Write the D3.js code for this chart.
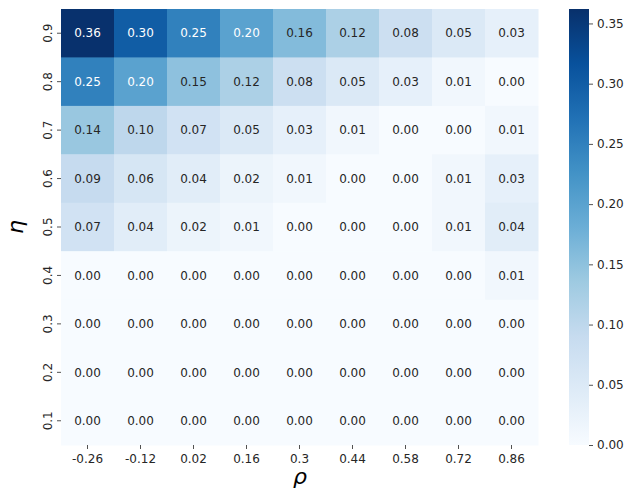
<!DOCTYPE html>
<html>
<head>
<meta charset="utf-8">
<script src="https://cdn.jsdelivr.net/npm/d3@7"></script>
<style>
  body { margin: 0; background: #fff; }
  text { font-family: "DejaVu Sans", sans-serif; }
</style>
</head>
<body>
<script>
let width = 630;
let height = 493;

// data
var rhoLabels = ['-0.26', '-0.12', '0.02', '0.16', '0.3', '0.44', '0.58', '0.72', '0.86'];
var etaLabels = ['0.9', '0.8', '0.7', '0.6', '0.5', '0.4', '0.3', '0.2', '0.1'];
var row09 = [0.36, 0.30, 0.25, 0.20, 0.16, 0.12, 0.08, 0.05, 0.03];
var row08 = [0.25, 0.20, 0.15, 0.12, 0.08, 0.05, 0.03, 0.01, 0.00];
var row07 = [0.14, 0.10, 0.07, 0.05, 0.03, 0.01, 0.00, 0.00, 0.01];
var row06 = [0.09, 0.06, 0.04, 0.02, 0.01, 0.00, 0.00, 0.01, 0.03];
var row05 = [0.07, 0.04, 0.02, 0.01, 0.00, 0.00, 0.00, 0.01, 0.04];
var row04 = [0.00, 0.00, 0.00, 0.00, 0.00, 0.00, 0.00, 0.00, 0.01];
var row03 = [0.00, 0.00, 0.00, 0.00, 0.00, 0.00, 0.00, 0.00, 0.00];
var row02 = [0.00, 0.00, 0.00, 0.00, 0.00, 0.00, 0.00, 0.00, 0.00];
var row01 = [0.00, 0.00, 0.00, 0.00, 0.00, 0.00, 0.00, 0.00, 0.00];
var rows = [row09, row08, row07, row06, row05, row04, row03, row02, row01];
var cbarTicks = [0, 0.05, 0.10, 0.15, 0.20, 0.25, 0.30, 0.35];

var vmax = 0.362;
var plot = {left: 61, right: 538, top: 9, bottom: 445};
var cbar = {left: 569, right: 589};
var tickColor = '#262626';

var cells = [];
rows.forEach(function(r, i) {
  r.forEach(function(v, j) {
    cells.push({eta: etaLabels[i], rho: rhoLabels[j], value: v});
  });
});

var blues = d3.schemeBlues[9];
var color = d3.scaleLinear()
  .domain(d3.range(9).map(function(k) { return k / 8 * vmax; }))
  .range(blues)
  .interpolate(d3.interpolateRgb)
  .clamp(true);

var x = d3.scaleBand().domain(rhoLabels).range([plot.left, plot.right]);
var y = d3.scaleBand().domain(etaLabels).range([plot.top, plot.bottom]);

var svg = d3.select('body')
  .append('svg')
  .attr('width', width)
  .attr('height', height);

svg.selectAll('rect.cell')
  .data(cells)
  .enter()
  .append('rect')
  .attr('class', 'cell')
  .attr('x', function(d) { return x(d.rho); })
  .attr('y', function(d) { return y(d.eta); })
  .attr('width', x.bandwidth() + 0.5)
  .attr('height', y.bandwidth() + 0.5)
  .attr('fill', function(d) { return color(d.value); });

function lum(c) {
  var rgb = d3.rgb(c);
  var f = function(v) { v = v / 255; return v <= 0.03928 ? v / 12.92 : Math.pow((v + 0.055) / 1.055, 2.4); };
  return 0.2126 * f(rgb.r) + 0.7152 * f(rgb.g) + 0.0722 * f(rgb.b);
}

svg.selectAll('text.annot')
  .data(cells)
  .enter()
  .append('text')
  .attr('class', 'annot')
  .attr('x', function(d) { return x(d.rho) + x.bandwidth() / 2; })
  .attr('y', function(d) { return y(d.eta) + y.bandwidth() / 2; })
  .attr('text-anchor', 'middle')
  .attr('dy', '.35em')
  .attr('font-size', 12)
  .attr('fill', function(d) { return lum(color(d.value)) > 0.408 ? tickColor : '#ffffff'; })
  .text(function(d) { return d.value.toFixed(2); });

// axes
var xAxis = svg.append('g')
  .attr('transform', 'translate(0,' + plot.bottom + ')')
  .call(d3.axisBottom(x).tickSize(4).tickPadding(5));
xAxis.select('.domain').remove();

var yAxis = svg.append('g')
  .attr('transform', 'translate(' + plot.left + ',0)')
  .call(d3.axisLeft(y).tickSize(4).tickPadding(4));
yAxis.select('.domain').remove();
yAxis.selectAll('.tick text')
  .attr('transform', 'rotate(-90)')
  .attr('x', 0)
  .attr('y', -9)
  .attr('dy', 0)
  .attr('text-anchor', 'middle');

svg.selectAll('.tick line').attr('stroke', tickColor).attr('stroke-width', 0.8);
svg.selectAll('.tick text')
  .attr('fill', tickColor)
  .attr('font-size', 12)
  .attr('font-family', '"DejaVu Sans", sans-serif');

svg.append('text')
  .attr('x', 300)
  .attr('y', 484)
  .attr('text-anchor', 'middle')
  .attr('font-size', 22)
  .attr('font-style', 'italic')
  .attr('fill', '#000')
  .text('ρ');

svg.append('text')
  .attr('transform', 'translate(23,' + ((plot.top + plot.bottom) / 2) + ') rotate(-90)')
  .attr('text-anchor', 'middle')
  .attr('font-size', 22)
  .attr('font-style', 'italic')
  .attr('fill', '#000')
  .text('η');

// colorbar
var defs = svg.append('defs');
var grad = defs.append('linearGradient')
  .attr('id', 'cbar')
  .attr('x1', 0).attr('y1', 1).attr('x2', 0).attr('y2', 0);
blues.forEach(function(c, k) {
  grad.append('stop').attr('offset', k / 8).attr('stop-color', c);
});

svg.append('rect')
  .attr('x', cbar.left)
  .attr('y', plot.top)
  .attr('width', cbar.right - cbar.left)
  .attr('height', plot.bottom - plot.top)
  .attr('fill', 'url(#cbar)');

var cy = d3.scaleLinear().domain([0, vmax]).range([plot.bottom, plot.top]);
var cAxis = svg.append('g')
  .attr('transform', 'translate(' + cbar.right + ',0)')
  .call(d3.axisRight(cy).tickValues(cbarTicks).tickFormat(d3.format('.2f')).tickSize(4).tickPadding(4));
cAxis.select('.domain').remove();
cAxis.selectAll('.tick line').attr('stroke', tickColor).attr('stroke-width', 0.8);
cAxis.selectAll('.tick text')
  .attr('fill', tickColor)
  .attr('font-size', 12)
  .attr('font-family', '"DejaVu Sans", sans-serif');
</script>
</body>
</html>
